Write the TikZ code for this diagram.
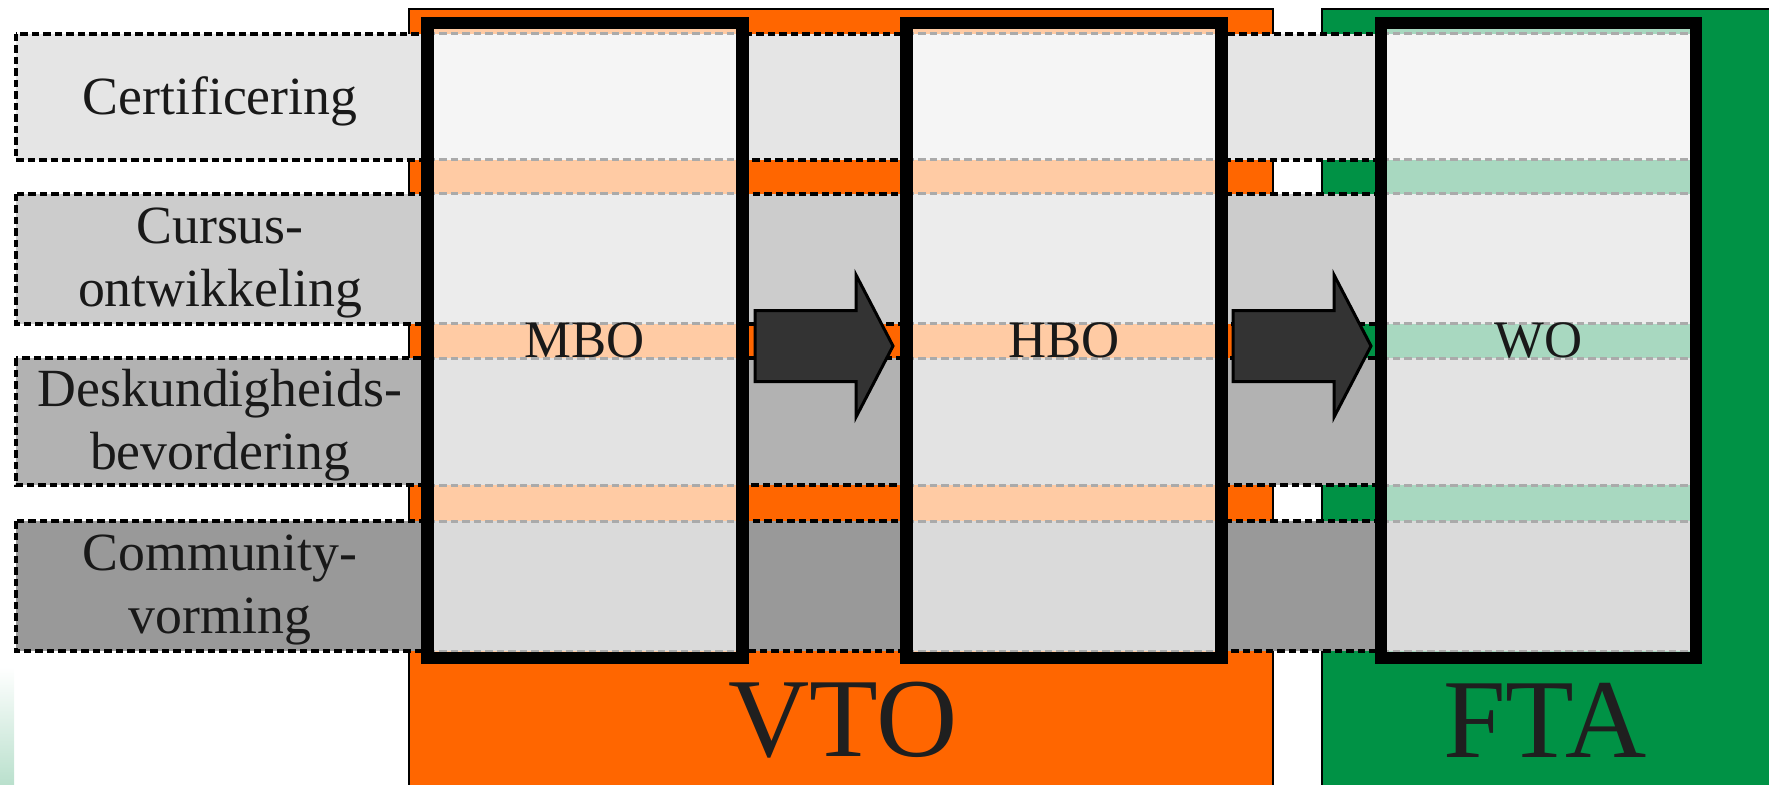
\documentclass[tikz,border=0pt]{standalone}
\usepackage{fontspec}
\setmainfont{Liberation Serif}
\usetikzlibrary{shapes.arrows}
\definecolor{vtoorange}{RGB}{255,102,0}
\definecolor{ftagreen}{RGB}{0,146,69}
\definecolor{paleorange}{RGB}{255,203,164}
\definecolor{palegreen}{RGB}{168,216,192}
\definecolor{dashgrey}{RGB}{170,170,170}
\definecolor{arrowgrey}{RGB}{51,51,51}
\tikzset{
  bandline/.style={draw=black,line width=0.35mm,dash pattern=on 0.75mm off 0.4mm},
  rowline/.style={draw=dashgrey,line width=0.3mm,dash pattern=on 0.75mm off 0.4mm},
  labeltext/.style={align=center,text=black!90,font=\fontsize{15.3}{18}\selectfont},
  colbox/.style={draw=black,line width=1.25mm,minimum width=31.5mm,minimum height=63.5mm,
    inner sep=0pt,text=black!90,font=\fontsize{15}{17}\selectfont},
  bigtext/.style={text=black!88,font=\fontsize{32}{36}\selectfont},
  stagearrow/.style={single arrow,draw=black,line width=0.3mm,fill=arrowgrey,
    minimum height=13.8mm,single arrow head extend=3.55mm,single arrow tip angle=125,
    inner xsep=0pt,inner ysep=3.4mm,outer sep=0pt}
}
\def\colfill#1#2{\fill[#2] (#1-157.5,23) rectangle (#1+157.5,658)}

\begin{document}
\begin{tikzpicture}[x=0.1mm,y=-0.1mm]
\useasboundingbox (0,0) rectangle (1769,785);
% VTO and FTA blocks
\fill[vtoorange] (409,9) rectangle (1273,785);
\draw[line width=0.15mm] (409,785) |- (1273,9) -- (1273,785);
\fill[ftagreen] (1322,9) rectangle (1769,785);
\draw[line width=0.15mm] (1322,785) |- (1769,9);
\shade[top color=white,bottom color=palegreen!80] (0,667) rectangle (14,785);
% bands with their labels
\foreach \ya/\yb/\g/\txt/\nm in {34/160/10/{Certificering}/cert,
    194/324/20/{Cursus-\\ontwikkeling}/curs,
    358/485/30/{Deskundigheids-\\bevordering}/desk,
    521/651/40/{Community-\\vorming}/comm} {
  \path[fill=black!\g,bandline] (16,\ya) rectangle (1385,\yb);
  \node[labeltext] (\nm) at (220,{(\ya+\yb)/2+4}) {\txt};
}
% columns
\foreach \cx/\pal in {585/paleorange,1064/paleorange,1538.5/palegreen} {
  \colfill{\cx}{\pal};
  \foreach \ya/\yb/\g in {34/160/4,194/324/7.5,358/485/11,521/651/14.5} {
    \fill[black!\g] (\cx-157.5,\ya) rectangle (\cx+157.5,\yb);
    \draw[rowline] (\cx-157.5,\ya) -- (\cx+157.5,\ya);
    \draw[rowline] (\cx-157.5,\yb) -- (\cx+157.5,\yb);
  }
}
\node[colbox] (mbo) at (585,340.5) {MBO};
\node[colbox] (hbo) at (1064,340.5) {HBO};
\node[colbox] (wo) at (1538.5,340.5) {WO};
% arrows between the stages
\node[stagearrow,anchor=tail] (mbotohbo) at (755,346) {};
\node[stagearrow,anchor=tail] (hbotowo) at (1233,346) {};
\node[bigtext] (vto) at (843,720) {VTO};
\node[bigtext] (fta) at (1545,720) {FTA};
\end{tikzpicture}
\end{document}
